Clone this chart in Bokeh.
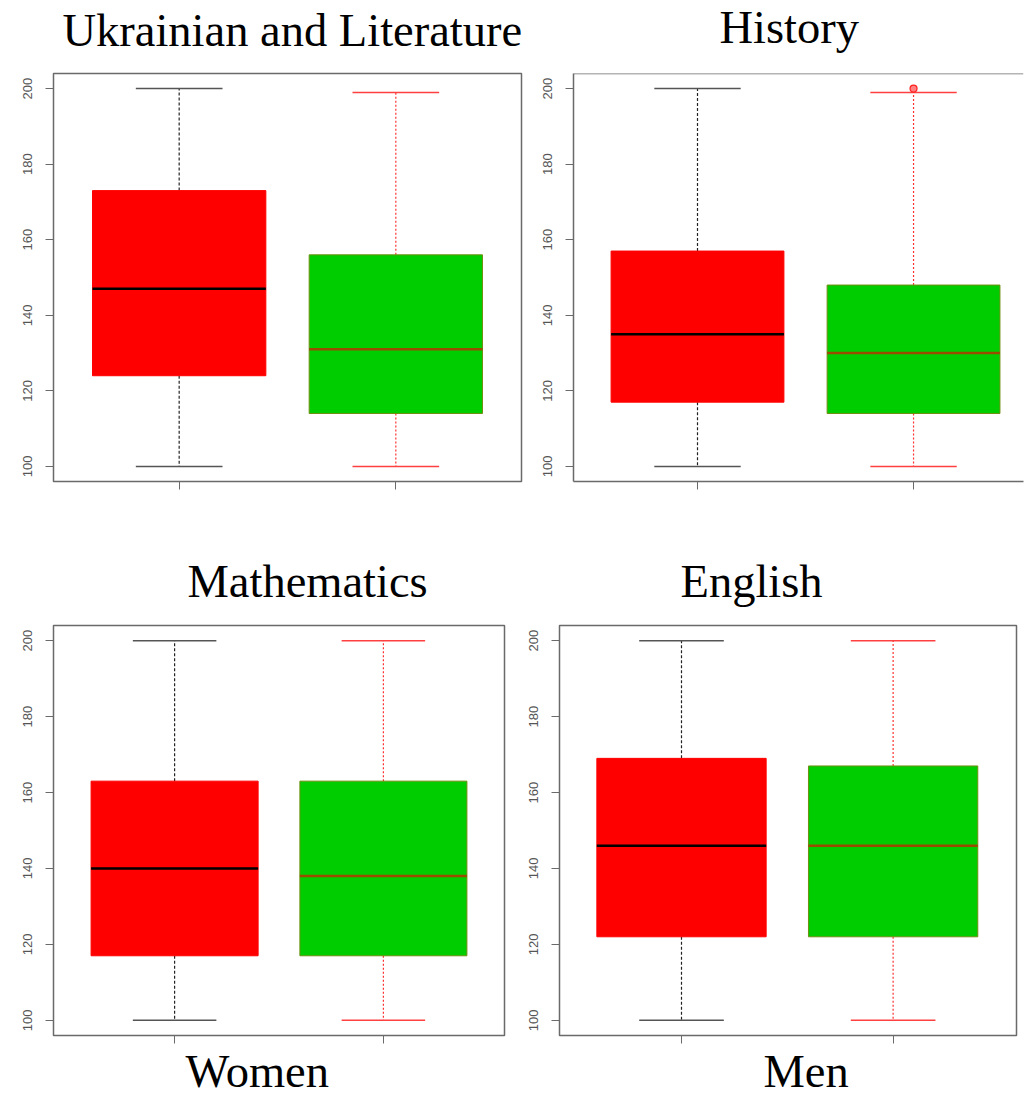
from bokeh.plotting import figure
from bokeh.layouts import column, row
from bokeh.models import Range1d, FixedTicker, Span
from bokeh.core.properties import value
from bokeh.embed import file_html
from bokeh.resources import INLINE

# ---------------- data ----------------
subjects = ["Ukrainian and Literature", "History", "Mathematics", "English"]
groups = ["Women", "Men"]

women_low = [100, 100, 100, 100]
women_q1 = [124, 117, 117, 122]
women_median = [147, 135, 140, 146]
women_q3 = [173, 157, 163, 169]
women_high = [200, 200, 200, 200]

men_low = [100, 100, 100, 100]
men_q1 = [114, 114, 117, 122]
men_median = [131, 130, 138, 146]
men_q3 = [156, 148, 163, 167]
men_high = [199, 199, 200, 200]
men_outliers = [[], [200], [], []]

y_ticks = [100, 120, 140, 160, 180, 200]

# ---------------- styles ----------------
box_fill = ["#ff0000", "#00cd00"]
box_line = ["#ff0000", "#6f8f10"]
median_color = ["#000000", "#9a4b00"]
whisker_color = ["#222222", "#ff3030"]
whisker_dash = ["3 2", "2 2"]
cap_color = ["#555555", "#ff4040"]
frame_color = "#6a6a6a"
serif = "Liberation Serif"
title_size = "46.5px"
PAGE_W = 1024

panel_layout = [
    dict(fw=468, fh=408, bl=53, br=19, bt=5, bb=59, xr=(0.42, 2.58), open_right=False),
    dict(fw=450, fh=408, bl=33, br=1, bt=5, bb=59, xr=(0.426, 2.509), open_right=True),
    dict(fw=451, fh=410, bl=53, br=22, bt=5, bb=10, xr=(0.42, 2.58), open_right=False),
    dict(fw=457, fh=410, bl=33, br=8, bt=5, bb=10, xr=(0.4235, 2.583), open_right=False),
]

# text strips: (height, [(text, left x, baseline y from strip bottom)])
strip_specs = [
    (68, [(subjects[0], 62, 38), (subjects[1], 719, 41)]),
    (80, [(subjects[2], 187, 39), (subjects[3], 680, 39)]),
    (52, [(groups[0], 185, 26), (groups[1], 763, 26)]),
]

lows = [women_low, men_low]
q1s = [women_q1, men_q1]
meds = [women_median, men_median]
q3s = [women_q3, men_q3]
highs = [women_high, men_high]


def text_strip(height, items):
    s = figure(frame_width=PAGE_W, frame_height=height, min_border=0,
               x_range=Range1d(0, PAGE_W), y_range=Range1d(0, height),
               x_axis_location=None, y_axis_location=None,
               output_backend="svg", toolbar_location=None)
    s.outline_line_color = None
    s.grid.visible = False
    s.background_fill_color = "white"
    s.border_fill_color = "white"
    s.text(x=[it[1] for it in items], y=[it[2] for it in items], text=[it[0] for it in items],
           text_font=value(serif), text_font_size=value(title_size), text_color="#000000",
           text_align="left", text_baseline="alphabetic")
    return s


figs = []
for i, subj in enumerate(subjects):
    L = panel_layout[i]
    p = figure(frame_width=L["fw"], frame_height=L["fh"],
               min_border_left=L["bl"], min_border_right=L["br"],
               min_border_top=L["bt"], min_border_bottom=L["bb"],
               x_range=Range1d(*L["xr"]), y_range=Range1d(96, 204),
               output_backend="svg", toolbar_location=None)

    p.xgrid.visible = False
    p.ygrid.visible = False
    p.background_fill_color = "white"
    p.border_fill_color = "white"

    if L["open_right"]:
        p.outline_line_color = None
        ax_line = frame_color
    else:
        p.outline_line_color = frame_color
        p.outline_line_width = 1.5
        ax_line = None

    ya = p.yaxis[0]
    ya.ticker = FixedTicker(ticks=y_ticks)
    ya.major_label_orientation = "vertical"
    ya.major_tick_out = 8
    ya.major_tick_in = 0
    ya.minor_tick_line_color = None
    ya.major_tick_line_color = frame_color
    ya.major_label_text_font = "Liberation Sans"
    ya.major_label_text_font_size = "13px"
    ya.major_label_text_color = "#555555"
    ya.major_label_standoff = 13
    ya.axis_line_color = ax_line
    ya.axis_line_width = 1.5

    xa = p.xaxis[0]
    xa.ticker = FixedTicker(ticks=[1, 2])
    xa.major_label_overrides = {1: "", 2: ""}
    xa.major_label_text_font_size = "1px"
    xa.major_label_standoff = 0
    xa.major_tick_out = 8
    xa.major_tick_in = 0
    xa.minor_tick_line_color = None
    xa.major_tick_line_color = frame_color
    xa.axis_line_color = ax_line
    xa.axis_line_width = 1.5

    if L["open_right"]:
        p.add_layout(Span(location=204, dimension="width", line_color=frame_color, line_width=1.5))

    for g in range(2):
        xg = g + 1
        # whiskers
        p.segment(x0=[xg, xg], y0=[q3s[g][i], q1s[g][i]], x1=[xg, xg], y1=[highs[g][i], lows[g][i]],
                  line_color=whisker_color[g], line_dash=whisker_dash[g], line_width=1.2)
        # caps
        p.segment(x0=[xg - 0.2, xg - 0.2], x1=[xg + 0.2, xg + 0.2],
                  y0=[highs[g][i], lows[g][i]], y1=[highs[g][i], lows[g][i]],
                  line_color=cap_color[g], line_width=1.5)
        # box
        p.vbar(x=[xg], width=0.8, bottom=[q1s[g][i]], top=[q3s[g][i]],
               fill_color=box_fill[g], line_color=box_line[g], line_width=1)
        # median
        p.segment(x0=[xg - 0.4], x1=[xg + 0.4], y0=[meds[g][i]], y1=[meds[g][i]],
                  line_color=median_color[g], line_width=2.5)

    if men_outliers[i]:
        p.scatter(x=[2] * len(men_outliers[i]), y=men_outliers[i], marker="circle", size=7,
                  line_color="#ff2020", fill_color="#ff8080", line_width=1.2)
    figs.append(p)

strips = [text_strip(h, items) for h, items in strip_specs]

layout = column(strips[0], row(figs[0], figs[1]), strips[1], row(figs[2], figs[3]), strips[2])
open("out.html", "w").write(file_html(layout, INLINE))
